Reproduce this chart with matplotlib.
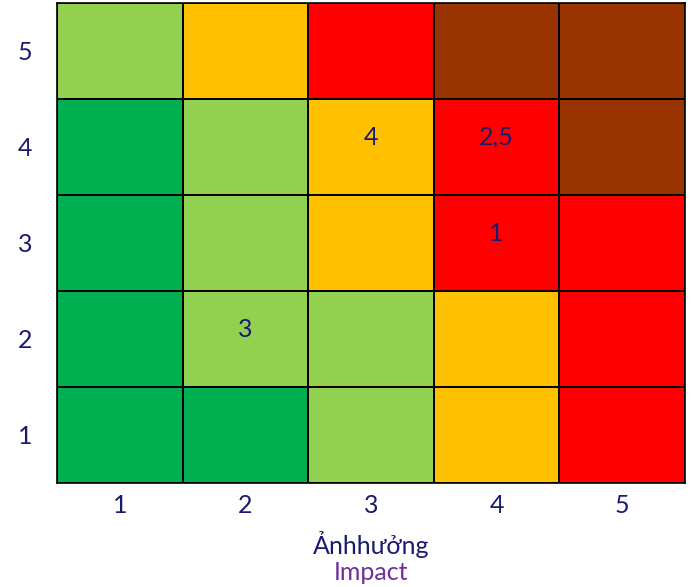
import numpy as np
import matplotlib.pyplot as plt
from matplotlib.colors import ListedColormap

plt.rcParams['font.family'] = ['Lato', 'DejaVu Sans']

# risk level colours: low -> extreme
level_colors = ['#00B050', '#92D050', '#FFC000', '#FF0000', '#993300']

impact_ticks = [1, 2, 3, 4, 5]
likelihood_ticks = [1, 2, 3, 4, 5]

# risk level per cell, rows = likelihood 1..5 (bottom to top), cols = impact 1..5
risk_levels = [
    [0, 0, 1, 2, 3],
    [0, 1, 1, 2, 3],
    [0, 1, 2, 3, 3],
    [0, 1, 2, 3, 4],
    [1, 2, 3, 4, 4],
]

# items placed in the matrix: impact, likelihood, label
item_impact = [3, 4, 4, 2]
item_likelihood = [4, 4, 3, 2]
item_labels = ['4', '2,5', '1', '3']

navy = '#1a1a6e'

fig = plt.figure(figsize=(6.95, 5.87), dpi=100)
ax = fig.add_axes([57 / 695, 104 / 587, 628 / 695, 480 / 587])

grid = np.array(risk_levels)
ax.pcolormesh(np.arange(0.5, 6), np.arange(0.5, 6), grid,
              cmap=ListedColormap(level_colors), vmin=-0.5, vmax=4.5,
              edgecolors='black', linewidth=1.2)

for x, y, s in zip(item_impact, item_likelihood, item_labels):
    ax.text(x, y + 0.1, s, ha='center', va='center', fontsize=18, color=navy)

ax.set_xlim(0.5, 5.5)
ax.set_ylim(0.5, 5.5)
ax.set_xticks(impact_ticks)
ax.set_yticks(likelihood_ticks)
ax.tick_params(length=0, labelsize=18, labelcolor=navy)
ax.tick_params(axis='x', pad=8)
ax.tick_params(axis='y', pad=18)
for sp in ax.spines.values():
    sp.set_color('black')
    sp.set_linewidth(1.2)

fig.text(371 / 695, 1 - 545 / 587, 'Ảnhhưởng', ha='center', va='center',
         fontsize=18, color=navy)
fig.text(371 / 695, 1 - 573 / 587, 'Impact', ha='center', va='center',
         fontsize=18, color='#7030A0')

fig.savefig('out.png', dpi=100)
